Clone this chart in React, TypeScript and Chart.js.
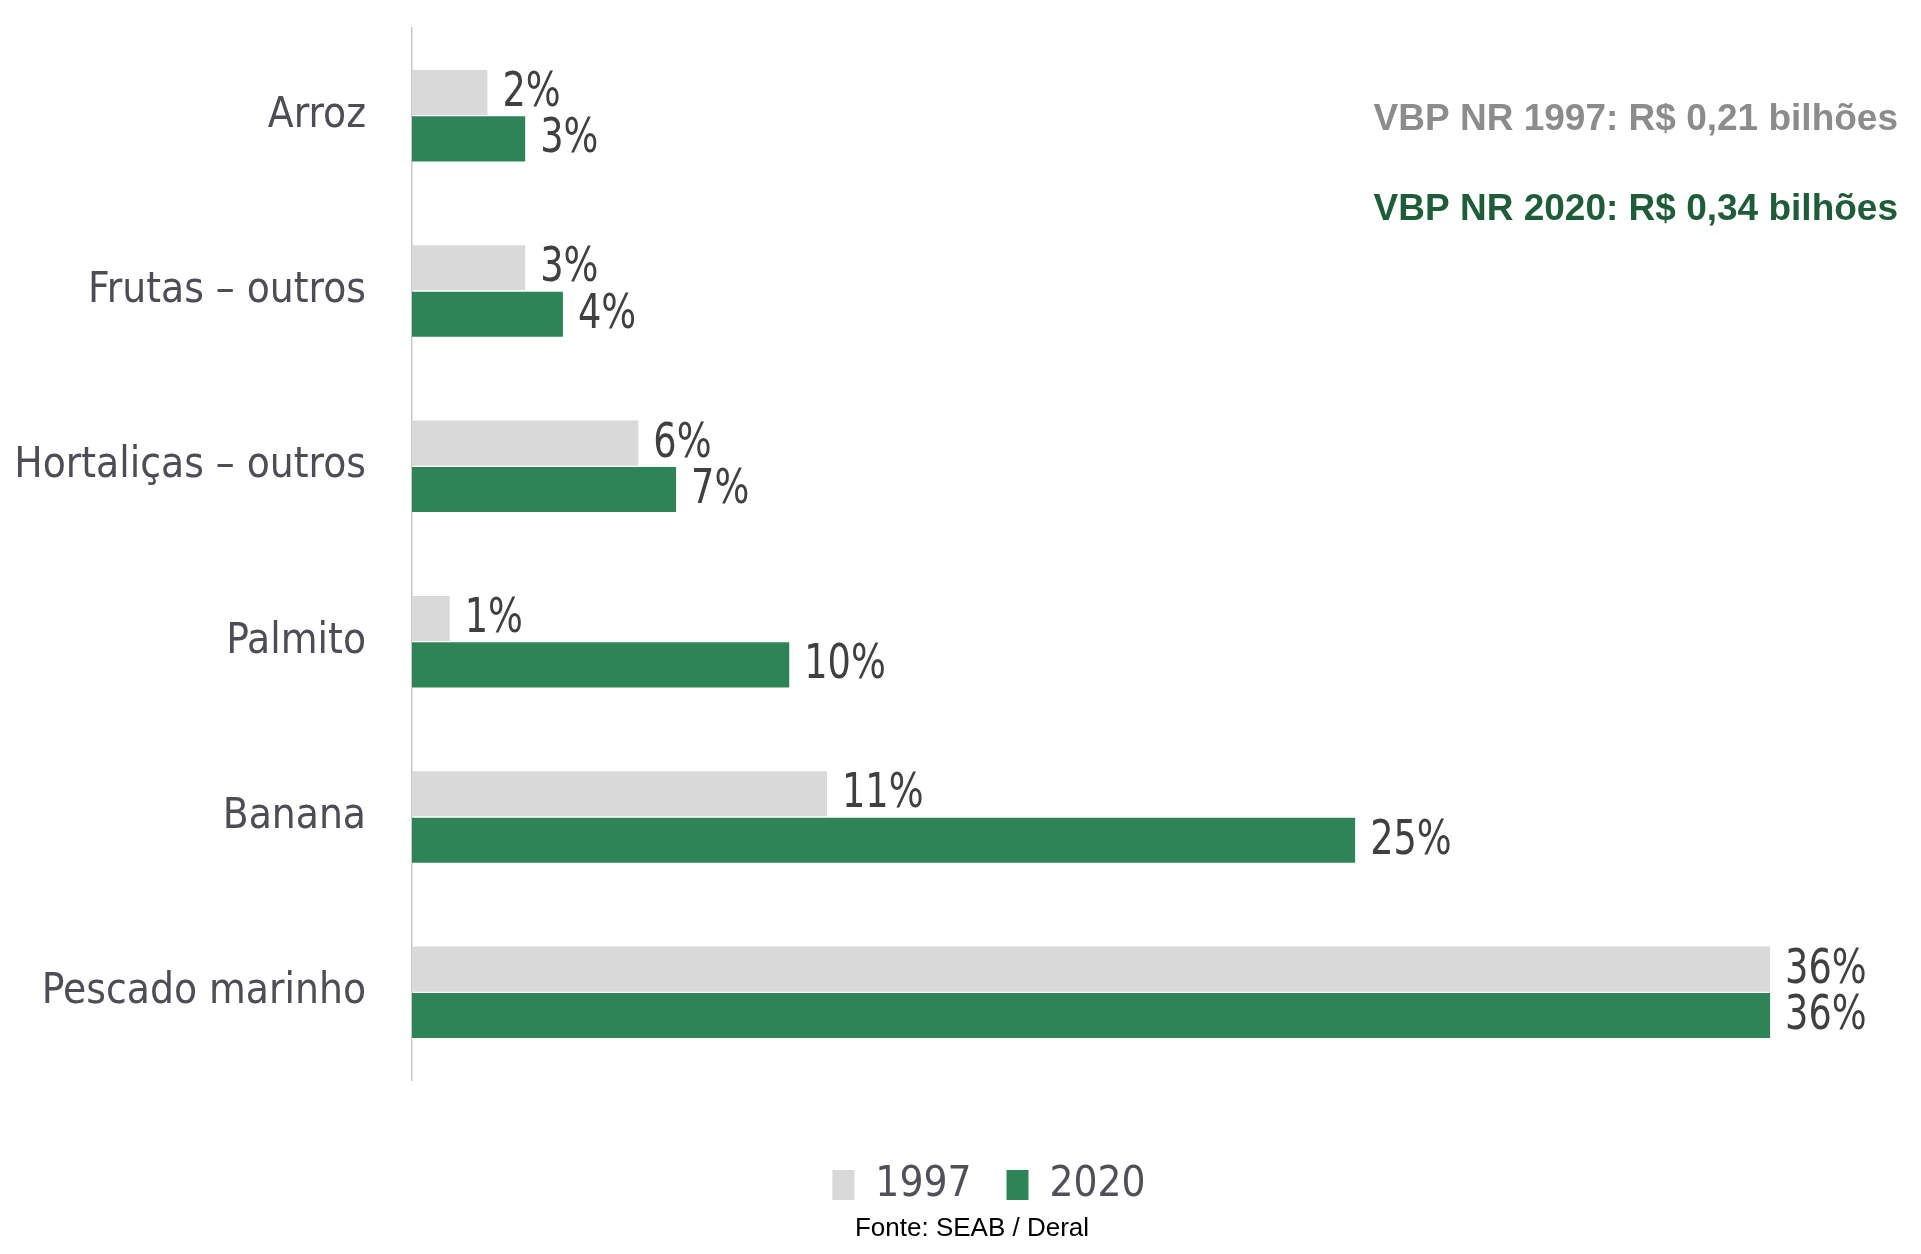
import React, { useEffect, useRef } from "react";
import { Chart, registerables } from "chart.js";

Chart.register(...registerables);

const categories = ["Arroz", "Frutas – outros", "Hortaliças – outros", "Palmito", "Banana", "Pescado marinho"];
const values1997 = [2, 3, 6, 1, 11, 36];
const values2020 = [3, 4, 7, 10, 25, 36];
const seriesNames = ["1997", "2020"];
const noteLines = ["VBP NR 1997: R$ 0,21 bilhões", "VBP NR 2020: R$ 0,34 bilhões"];
const sourceText = "Fonte: SEAB / Deral";

const NARROW = "'DejaVu Sans Condensed', 'Liberation Sans Narrow', sans-serif";
const COLOR_1997 = "#d9d9d9";
const COLOR_2020 = "#2e8456";

const labelsPlugin = {
  id: "barValueLabels",
  afterDatasetsDraw(chart: any) {
    const ctx = chart.ctx;
    chart.data.datasets.forEach((ds: any, di: number) => {
      const meta = chart.getDatasetMeta(di);
      meta.data.forEach((el: any, i: number) => {
        ctx.save();
        ctx.translate(el.x + 15, el.y + 1);
        ctx.scale(0.85, 1);
        ctx.font = `48px ${NARROW}`;
        ctx.fillStyle = "#404040";
        ctx.textAlign = "left";
        ctx.textBaseline = "middle";
        ctx.fillText(`${ds.data[i]}%`, 0, 0);
        ctx.restore();
      });
    });
  },
};

const notesPlugin = {
  id: "notes",
  afterDraw(chart: any) {
    const ctx = chart.ctx;
    ctx.save();
    ctx.font = "bold 37px 'Liberation Sans', Arial, sans-serif";
    ctx.textAlign = "right";
    ctx.textBaseline = "middle";
    ctx.fillStyle = "#8c8c8c";
    ctx.fillText(noteLines[0], 1898, 120);
    ctx.fillStyle = "#1e5c3a";
    ctx.fillText(noteLines[1], 1898, 210);
    ctx.font = "26px 'Liberation Sans', Arial, sans-serif";
    ctx.textAlign = "center";
    ctx.fillStyle = "#000000";
    ctx.fillText(sourceText, 972, 1229);
    ctx.restore();
  },
};

export default function App() {
  const ref = useRef<HTMLCanvasElement | null>(null);

  useEffect(() => {
    if (!ref.current) return;
    const chart = new Chart(ref.current, {
      type: "bar",
      data: {
        labels: categories,
        datasets: [
          {
            label: seriesNames[0],
            data: values1997,
            backgroundColor: COLOR_1997,
            borderWidth: 0,
            categoryPercentage: 0.53,
            barPercentage: 0.97,
          },
          {
            label: seriesNames[1],
            data: values2020,
            backgroundColor: COLOR_2020,
            borderWidth: 0,
            categoryPercentage: 0.53,
            barPercentage: 0.97,
          },
        ],
      },
      options: {
        indexAxis: "y",
        responsive: true,
        maintainAspectRatio: false,
        animation: false,
        layout: { padding: { left: 0, right: -57, top: 28, bottom: 38 } },
        scales: {
          x: {
            min: 0,
            max: 40,
            ticks: { display: false },
            grid: { display: false, drawTicks: false },
            border: { display: false },
            afterFit: (s: any) => {
              s.height = 49;
              s.paddingLeft = 0;
              s.paddingRight = 0;
            },
          },
          y: {
            ticks: {
              font: { family: NARROW, size: 42 },
              color: "#4d4d55",
              padding: 46,
            },
            grid: { display: false, drawTicks: false },
            border: { display: true, color: "#c8c8c8", width: 1.5 },
            afterFit: (s: any) => {
              s.width = 412;
              s.paddingTop = 0;
              s.paddingBottom = 0;
            },
          },
        },
        plugins: {
          legend: {
            display: true,
            position: "bottom",
            labels: {
              boxWidth: 22,
              boxHeight: 30,
              padding: 35,
              color: "#505058",
              font: { family: NARROW, size: 42 },
            },
          },
          title: { display: false },
          tooltip: { enabled: false },
        },
      },
      plugins: [labelsPlugin, notesPlugin],
    } as any);
    return () => chart.destroy();
  }, []);

  return (
    <div style={{ position: "fixed", left: 0, top: 0, width: "1921px", height: "1254px", background: "#ffffff" }}>
      <canvas ref={ref} />
    </div>
  );
}
